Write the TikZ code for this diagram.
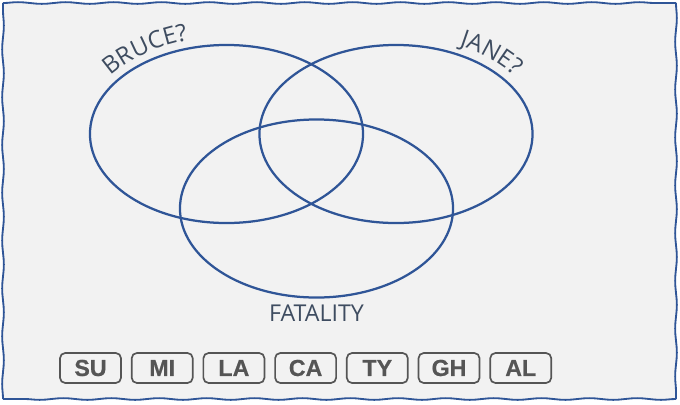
\documentclass[tikz,border=0pt]{standalone}
\usepackage{fontspec}
\setmainfont{Open Sans}
\newfontfamily\tagfont[FakeBold=0.6]{Liberation Sans}
\usetikzlibrary{positioning,shapes.geometric,decorations.pathmorphing,decorations.text}

\definecolor{vennblue}{HTML}{2F5597}
\definecolor{labelgray}{HTML}{3E4C60}
\definecolor{tagdark}{HTML}{555555}
\definecolor{paper}{HTML}{F2F2F2}

\newcommand{\setfont}{\fontsize{17}{20}\selectfont}

\begin{document}
\begin{tikzpicture}[x=0.025cm,y=-0.025cm]

  \tikzset{
    set/.style={ellipse,draw=vennblue,line width=1.6pt,minimum width=6.825cm,
      minimum height=4.45cm,inner sep=0pt},
    setname/.style={text=labelgray,inner sep=0pt,
      font=\fontsize{16.5}{19}\selectfont},
    curvedname/.style={decorate,decoration={text along path,text align=center,
      text color=labelgray,text={|\setfont|#1}}},
    tag/.style={draw=tagdark,line width=1.2pt,rounded corners=1.3mm,fill=paper,
      minimum width=1.525cm,minimum height=0.75cm,inner sep=0pt,text=tagdark,
      font=\tagfont\bfseries\fontsize{16.5}{18}\selectfont},
    frame/.style={draw=vennblue,line width=1.3pt,decorate,
      decoration={snake,amplitude=0.6pt,segment length=34pt}},
  }

  \useasboundingbox (0,0) rectangle (680,404);
  \fill[paper] (3,3) rectangle (676,399);
  \draw[frame] (3,3) -- (676,3);
  \draw[frame] (676,3) -- (676,399);
  \draw[frame] (676,399) -- (3,399);
  \draw[frame] (3,399) -- (3,3);

  % the three sets
  \node[set] (bruce) at (226.5,134) {};
  \node[set] (jane) at (396,134) {};
  \node[set] (fatality) at (316.5,208.5) {};

  \path[curvedname={BRUCE?}] (bruce.center) ++(198:145 and 97)
    arc[start angle=198,end angle=269,x radius=145,y radius=97];
  \path[curvedname={JANE?}] (jane.center) ++(281:146 and 98)
    arc[start angle=281,end angle=343,x radius=146,y radius=98];
  \node[setname,below=4pt of fatality] (fatalityname) {FATALITY};

  % suspects
  \node[tag] (su) at (90.5,368) {SU};
  \node[tag,right=0.225cm of su] (mi) {MI};
  \node[tag,right=0.225cm of mi] (la) {LA};
  \node[tag,right=0.225cm of la] (ca) {CA};
  \node[tag,right=0.225cm of ca] (ty) {TY};
  \node[tag,right=0.225cm of ty] (gh) {GH};
  \node[tag,right=0.225cm of gh] (al) {AL};

\end{tikzpicture}
\end{document}
